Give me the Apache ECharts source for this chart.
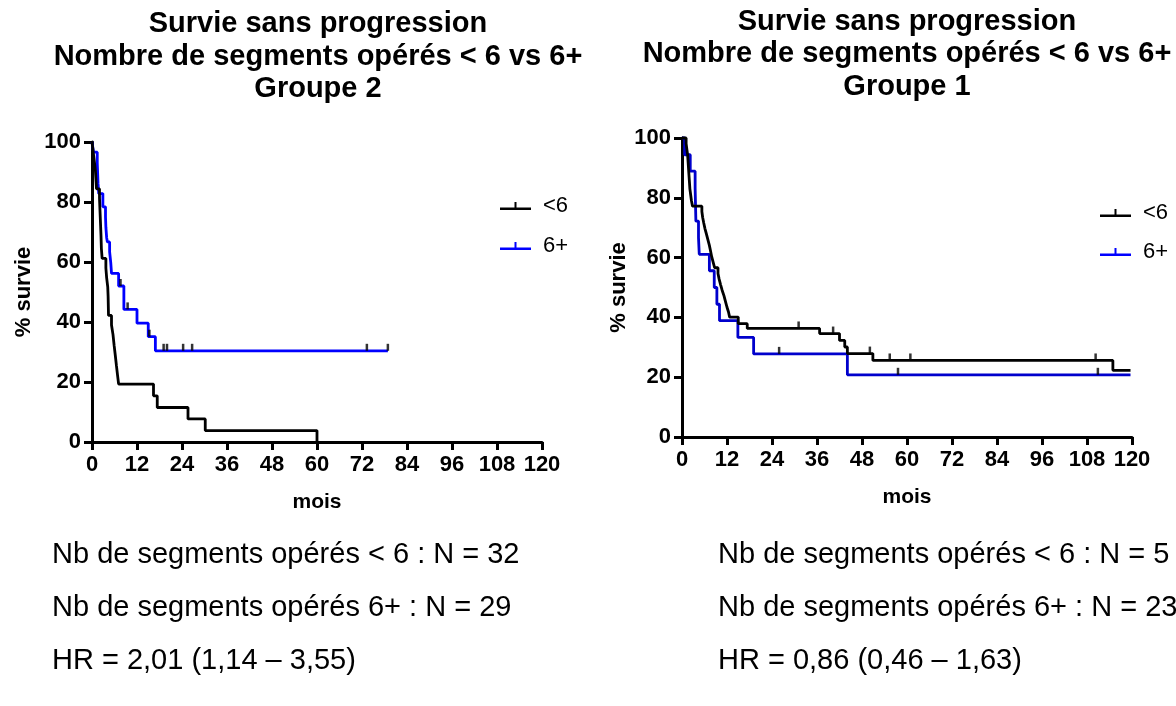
<!DOCTYPE html>
<html>
<head>
<meta charset="utf-8">
<script src="https://cdn.jsdelivr.net/npm/echarts@6/dist/echarts.min.js"></script>
<style>
  html, body { margin: 0; padding: 0; background: #ffffff; }
  #chart { width: 1176px; height: 706px; }
</style>
</head>
<body>
<div id="chart"></div>
<script>
// Kaplan-Meier progression-free survival, months vs % survival.
// Each curve: event times (months) and survival (%) right after each step.

// Groupe 2, < 6 segments
const g2LowTimes = [0, 0.3, 0.6, 0.9, 1.2, 2.0, 2.1, 2.2, 2.3, 2.4, 2.5, 2.7, 3.7, 3.9, 4.2, 4.3, 4.4, 5.2, 5.6, 5.9, 6.2, 6.5, 6.8, 7.1, 16.4, 17.4, 25.6, 30.2, 60.0];
const g2LowSurv  = [100, 96.9, 93.8, 90.6, 84.4, 81.3, 78.1, 75.0, 71.9, 68.8, 64.5, 61.2, 58.0, 54.8, 51.6, 48.4, 42.2, 39.0, 35.8, 32.2, 29.0, 25.6, 22.4, 19.3, 15.4, 11.5, 7.7, 3.8, 0];
const g2LowCensTimes = [];
const g2LowCensSurv  = [];

// Groupe 2, 6+ segments
const g2HighTimes = [0, 0.4, 1.4, 1.5, 1.6, 1.8, 2.9, 3.6, 3.7, 3.9, 4.1, 4.7, 5.0, 5.2, 7.1, 8.5, 12.0, 15.0, 16.9, 78.9];
const g2HighSurv  = [100, 96.6, 93.1, 89.7, 86.2, 82.8, 78.4, 75.0, 71.6, 68.2, 66.7, 63.4, 59.8, 56.2, 52.0, 44.2, 39.6, 35.1, 30.4, 30.4];
const g2HighCensTimes = [7.6, 9.5, 15.3, 19.1, 20.0, 24.3, 26.7, 73.3, 78.9];
const g2HighCensSurv  = [52.0, 44.2, 35.1, 30.4, 30.4, 30.4, 30.4, 30.4, 30.4];

// Groupe 1, < 6 segments
const g1LowTimes = [0, 1.1, 1.3, 1.5, 1.6, 1.7, 1.8, 1.9, 2.0, 2.1, 2.3, 2.5, 2.8, 5.3, 5.5, 5.8, 6.1, 6.5, 6.9, 7.3, 7.6, 7.9, 8.3, 8.7, 9.6, 9.9, 10.3, 10.7, 11.2, 11.6, 12.0, 12.4, 12.7, 15.0, 17.4, 36.7, 42.0, 43.4, 44.1, 50.9, 114.9, 119.6];
const g1LowSurv  = [100, 98.1, 96.2, 94.3, 92.5, 90.6, 88.7, 86.8, 84.9, 83.0, 81.1, 79.2, 77.2, 75.4, 73.5, 71.6, 69.8, 67.9, 66.0, 64.1, 62.3, 60.4, 58.5, 56.6, 54.7, 52.8, 50.9, 49.1, 47.2, 45.3, 43.4, 41.8, 40.1, 37.9, 36.3, 34.6, 32.3, 30.1, 27.9, 25.6, 22.3, 22.3];
const g1LowCensTimes = [31.1, 40.3, 50.1, 55.4, 60.9, 110.3];
const g1LowCensSurv  = [36.3, 34.6, 27.9, 25.6, 25.6, 25.6];

// Groupe 1, 6+ segments
const g1HighTimes = [0, 0.7, 2.2, 3.5, 3.6, 3.7, 4.4, 4.6, 7.3, 8.6, 9.3, 10.0, 14.9, 19.1, 44.1, 119.6];
const g1HighSurv  = [100, 94.4, 88.9, 83.3, 77.8, 72.2, 66.7, 61.1, 55.6, 50.0, 44.4, 38.9, 33.3, 27.8, 20.8, 20.8];
const g1HighCensTimes = [25.9, 57.6, 110.9];
const g1HighCensSurv  = [27.8, 20.8, 20.8];

const groupNames = ['<6', '6+'];
const titleLines = ['Survie sans progression', 'Nombre de segments opérés < 6 vs 6+'];
const panelGroups = ['Groupe 2', 'Groupe 1'];
const leftNotes  = ['Nb de segments opérés < 6 : N = 32', 'Nb de segments opérés 6+ : N = 29', 'HR = 2,01 (1,14 – 3,55)'];
const rightNotes = ['Nb de segments opérés < 6 : N = 5', 'Nb de segments opérés 6+ : N = 23', 'HR = 0,86 (0,46 – 1,63)'];

const FONT = '"Liberation Sans", Arial, Helvetica, sans-serif';
const pairs = (t, s) => t.map((x, i) => [x, s[i]]);

function xAxisFor(idx, gap) {
  return {
    type: 'value', gridIndex: idx, min: 0, max: 120, interval: 12,
    name: 'mois', nameLocation: 'middle', nameGap: gap,
    nameTextStyle: { fontFamily: FONT, fontWeight: 'bold', fontSize: 21, color: '#000' },
    axisLine: { lineStyle: { color: '#000', width: 3 } },
    axisTick: { length: 8, lineStyle: { color: '#000', width: 3 } },
    axisLabel: { margin: 12, fontFamily: FONT, fontWeight: 'bold', fontSize: 22, color: '#000' },
    splitLine: { show: false }
  };
}
function yAxisFor(idx, gap) {
  return {
    type: 'value', gridIndex: idx, min: 0, max: 100, interval: 20,
    name: '% survie', nameLocation: 'middle', nameGap: gap, nameRotate: 90,
    nameTextStyle: { fontFamily: FONT, fontWeight: 'bold', fontSize: 22, color: '#000' },
    axisLine: { show: true, lineStyle: { color: '#000', width: 3 } },
    axisTick: { show: true, length: 8, lineStyle: { color: '#000', width: 3 } },
    axisLabel: { margin: 11, fontFamily: FONT, fontWeight: 'bold', fontSize: 22, color: '#000' },
    splitLine: { show: false }
  };
}
function curve(name, idx, data, color) {
  return {
    name: name, type: 'line', xAxisIndex: idx, yAxisIndex: idx, data: data,
    step: 'end', showSymbol: false, clip: false, silent: true, z: name === '<6' ? 3 : 2,
    lineStyle: { color: color, width: 2.8 }, itemStyle: { color: color }
  };
}
function censors(idx, data) {
  return {
    name: 'censure', type: 'scatter', xAxisIndex: idx, yAxisIndex: idx, data: data,
    symbol: 'rect', symbolSize: [2.5, 7], symbolOffset: [0, -3.5], clip: false, silent: true, z: 4,
    itemStyle: { color: '#000' }
  };
}

const legendIcon = 'path://M0,5.5L31,5.5L31,8L0,8Z M14.5,0L16.5,0L16.5,5.5L14.5,5.5Z';
function legendAt(left, top, gap) {
  return {
    orient: 'vertical', left: left, top: top, itemGap: gap, itemWidth: 31, itemHeight: 8,
    icon: legendIcon, selectedMode: false, data: groupNames,
    textStyle: { fontFamily: FONT, fontSize: 22, color: '#000', lineHeight: 24, padding: [0, 0, 0, 7] }
  };
}

function textEl(str, x, y, size, bold, align) {
  return {
    type: 'text', x: x, y: y, silent: true,
    style: { text: str, fill: '#000', font: (bold ? 'bold ' : '') + size + 'px ' + FONT,
             textAlign: align, textVerticalAlign: 'middle' }
  };
}

const graphics = [];
// titles
[[318, [24, 57, 89], 0], [907, [22, 54, 87], 1]].forEach(([cx, ys, k]) => {
  const lines = titleLines.concat([panelGroups[k]]);
  lines.forEach((l, i) => graphics.push(textEl(l, cx, ys[i], 29, true, 'center')));
});
// notes under each panel
[[52, leftNotes], [718, rightNotes]].forEach(([x0, notes]) => {
  [555, 608, 661].forEach((y, i) => graphics.push(textEl(notes[i], x0, y, 29, false, 'left')));
});

const chart = echarts.init(document.getElementById('chart'), null, { renderer: 'canvas' });
chart.setOption({
  backgroundColor: '#ffffff',
  animation: false,
  grid: [
    { left: 92, top: 142, width: 450, height: 300 },
    { left: 682, top: 138, width: 450, height: 299 }
  ],
  xAxis: [xAxisFor(0, 50), xAxisFor(1, 50)],
  yAxis: [yAxisFor(0, 57), yAxisFor(1, 52)],
  legend: [legendAt(495, 189, 16), legendAt(1095, 196, 15)],
  series: [
    curve(groupNames[1], 0, pairs(g2HighTimes, g2HighSurv), '#0000ff'),
    curve(groupNames[0], 0, pairs(g2LowTimes, g2LowSurv), '#000000'),
    censors(0, pairs(g2HighCensTimes, g2HighCensSurv)),
    censors(0, pairs(g2LowCensTimes, g2LowCensSurv)),
    curve(groupNames[1], 1, pairs(g1HighTimes, g1HighSurv), '#0000cc'),
    curve(groupNames[0], 1, pairs(g1LowTimes, g1LowSurv), '#000000'),
    censors(1, pairs(g1HighCensTimes, g1HighCensSurv)),
    censors(1, pairs(g1LowCensTimes, g1LowCensSurv))
  ],
  graphic: graphics
});
</script>
</body>
</html>
